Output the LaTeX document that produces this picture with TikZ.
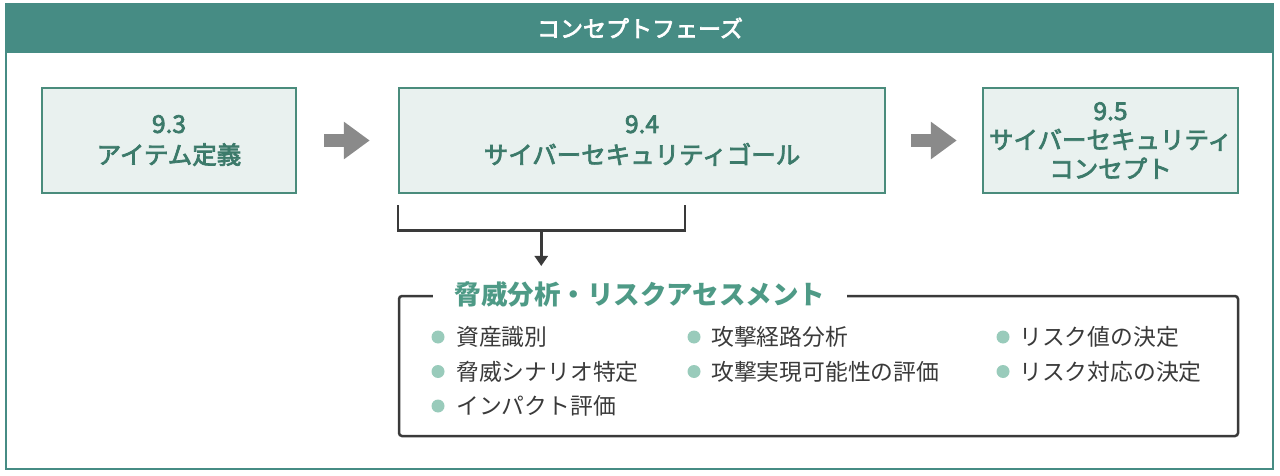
\documentclass[tikz,border=0pt]{standalone}
\usepackage{fontspec}
\setmainfont{Noto Sans CJK JP}
\newfontfamily\medfont{Noto Sans CJK JP}[FakeBold=3]
\usepackage{tikz}
\usetikzlibrary{arrows.meta,positioning,calc}
\definecolor{phaseteal}{HTML}{468C84}
\definecolor{boxline}{HTML}{4A8C7C}
\definecolor{boxfill}{HTML}{E9F1EF}
\definecolor{boxtext}{HTML}{3C7A6A}
\definecolor{titleteal}{HTML}{4E9A86}
\definecolor{dotteal}{HTML}{99CBBB}
\definecolor{darkline}{HTML}{3A3A3A}
\definecolor{blockgray}{HTML}{8A8A8A}
\tikzset{
    stepbox/.style={draw=boxline,line width=2.5pt,fill=boxfill,text=boxtext,minimum height=105pt,
        align=center,font=\fontsize{24.5}{31}\selectfont\medfont},
    blockarrow/.style={draw=blockgray,line width=13pt,-{Triangle[length=26pt,width=36pt]}},
    item/.style={anchor=west,inner sep=0pt,text=darkline,font=\fontsize{22.8}{25}\selectfont},
    dot/.style={circle,fill=dotteal,minimum size=13pt,inner sep=0pt}
}
\begin{document}
\begin{tikzpicture}[x=1pt,y=1pt]
            \useasboundingbox (0,0) rectangle (1280,475);
            \draw[phaseteal,line width=2pt] (6,6) rectangle (1273,471);
            \fill[phaseteal] (6,422) rectangle (1273,471);
            \node[text=white,font=\fontsize{23}{26}\selectfont\medfont] (phase) at (640,447) {コンセプトフェーズ};
            \node[stepbox,minimum width=254pt] (b93) at (169,334.5) {9.3\\アイテム定義};
            \node[stepbox,minimum width=486pt] (b94) at (642,334.5) {9.4\\サイバーセキュリティゴール};
            \node[stepbox,minimum width=255pt,font=\fontsize{24.5}{29}\selectfont\medfont] (b95) at (1110.5,334.5) {9.5\\サイバーセキュリティ\\コンセプト};
            \draw[blockarrow] ([xshift=27pt]b93.east) -- ([xshift=-28pt]b94.west);
            \draw[blockarrow] ([xshift=25pt]b94.east) -- ([xshift=-25pt]b95.west);
            \node[draw=darkline,line width=2.5pt,rounded corners=3pt,minimum width=839pt,minimum height=140pt] (risk) at (818.5,109) {};
            \node[fill=white,inner xsep=22pt,inner ysep=2pt,text=titleteal,font=\fontsize{26.5}{28}\selectfont\bfseries] (risktitle) at (640,181) {脅威分析・リスクアセスメント};
            \coordinate (brl) at ([yshift=-11pt]b94.south west);
            \coordinate (brr) at ($(brl)+(287,0)$);
            \coordinate (brm) at ($(brl)!0.5!(brr)+(0,-25)$);
            \draw[darkline,line width=2.5pt] (brl) |- (brm) -| (brr);
            \draw[darkline,line width=2.5pt,-{Triangle[length=10pt,width=13pt]}] (brm) -- ([yshift=13pt]risktitle.north -| brm);
            \foreach \txt [count=\i] in {資産識別,脅威シナリオ特定,インパクト評価} {
                \node[dot] (da\i) at (438,172.5-34.5*\i) {};
                \node[item] (ia\i) at (456,172.5-34.5*\i) {\txt};
            }
            \foreach \txt [count=\i] in {攻撃経路分析,攻撃実現可能性の評価} {
                \node[dot] (db\i) at (694,172.5-34.5*\i) {};
                \node[item] (ib\i) at (711,172.5-34.5*\i) {\txt};
            }
            \foreach \txt [count=\i] in {リスク値の決定,リスク対応の決定} {
                \node[dot] (dc\i) at (1003,172.5-34.5*\i) {};
                \node[item] (ic\i) at (1019,172.5-34.5*\i) {\txt};
            }
        \end{tikzpicture}
\end{document}
